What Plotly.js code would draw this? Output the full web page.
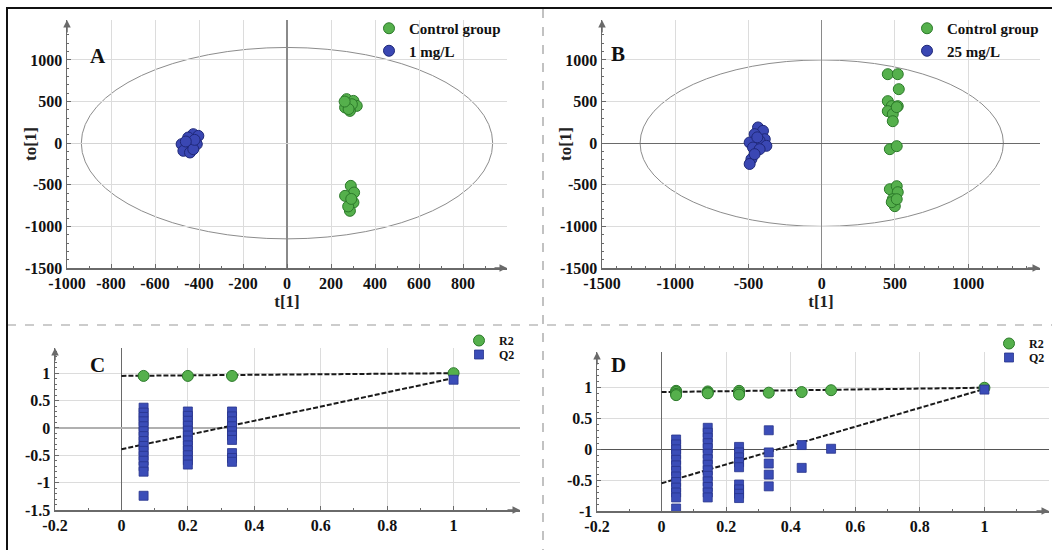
<!DOCTYPE html>
<html>
<head>
<meta charset="utf-8">
<script src="https://cdn.plot.ly/plotly-3.0.1.min.js"></script>
<style>html,body{margin:0;padding:0;background:#fff;}#chart{width:1052px;height:550px;}</style>
</head>
<body>
<div id="chart"></div>
<script>
// ---------- DATA ----------
// Panel A: OPLS-DA scores, Control vs 1 mg/L
const aCtrlT  = [271, 302, 317, 264, 286, 295, 280, 262, 290, 305, 264, 302, 286, 278, 292];
const aCtrlTo = [529, 508, 448, 429, 388, 468, 410, 500, -513, -593, -633, -713, -813, -760, -670];
const aTrtT   = [-426, -403, -449, -410, -441, -479, -471, -441, -426, -420, -460];
const aTrtTo  = [108, 88, 68, -12, -32, -12, -92, -112, -72, 40, 20];
// Panel B: OPLS-DA scores, Control vs 25 mg/L
const bCtrlT  = [451, 519, 526, 451, 478, 519, 451, 485, 512, 485, 465, 512, 465, 512, 519, 485, 499, 478, 512];
const bCtrlTo = [829, 829, 649, 505, 445, 445, 385, 349, 433, 264, -72, -36, -553, -517, -589, -673, -757, -709, -673];
const bTrtT   = [-435, -401, -458, -389, -424, -492, -378, -469, -424, -480, -492, -458, -440];
const bTrtTo  = [189, 148, 108, 48, 28, 8, -32, -52, -72, -192, -250, -132, 70];
// Hotelling T2 ellipses (semi-axes in t[1], to[1] units)
const ellipseA = [935, 1150];
const ellipseB = [1240, 1000];
// Panel C: permutation test (1 mg/L)
const cR2X = [0.0667, 0.2, 0.333, 1];
const cR2Y = [0.95, 0.95, 0.95, 1.0];
const cQ2X = [0.0667,0.0667,0.0667,0.0667,0.0667,0.0667,0.0667,0.0667,0.0667,0.0667,0.0667,0.0667,0.0667,0.0667,0.0667,
              0.2,0.2,0.2,0.2,0.2,0.2,0.2,0.2,0.2,0.2,0.2,0.2,
              0.333,0.333,0.333,0.333,0.333,0.333,0.333,0.333,0.333,0.333, 1];
const cQ2Y = [0.37,0.28,0.2,0.12,0.03,-0.06,-0.15,-0.24,-0.33,-0.42,-0.51,-0.6,-0.7,-0.8,-1.24,
              0.3,0.22,0.13,0.04,-0.05,-0.14,-0.23,-0.32,-0.41,-0.5,-0.59,-0.67,
              0.3,0.21,0.12,0.03,-0.06,-0.14,-0.22,-0.46,-0.55,-0.62, 0.88];
const cLineX  = [0, 1];
const cR2Line = [0.95, 1.0];
const cQ2Line = [-0.39, 0.91];
// Panel D: permutation test (25 mg/L)
const dR2X = [0.045,0.045,0.045,0.045, 0.143,0.143,0.143, 0.24,0.24,0.24, 0.332, 0.434, 0.525, 1];
const dR2Y = [0.95,0.93,0.9,0.88, 0.94,0.92,0.91, 0.95,0.92,0.89, 0.92, 0.93, 0.96, 1.0];
const dQ2X = [0.045,0.045,0.045,0.045,0.045,0.045,0.045,0.045,0.045,0.045,0.045,0.045,0.045,
              0.143,0.143,0.143,0.143,0.143,0.143,0.143,0.143,0.143,0.143,0.143,0.143,0.143,0.143,
              0.24,0.24,0.24,0.24,0.24,0.24,0.24,0.24,0.24,
              0.332,0.332,0.332,0.332,0.332, 0.434,0.434, 0.525, 1];
const dQ2Y = [0.16,0.08,0.0,-0.08,-0.17,-0.26,-0.35,-0.44,-0.53,-0.62,-0.7,-0.78,-0.96,
              0.35,0.27,0.19,0.1,0.02,-0.07,-0.16,-0.25,-0.34,-0.43,-0.52,-0.61,-0.7,-0.78,
              0.04,-0.05,-0.13,-0.21,-0.29,-0.57,-0.65,-0.72,-0.79,
              0.31,-0.05,-0.23,-0.41,-0.6, 0.07,-0.3, 0.01, 0.97];
const dLineX  = [0, 1];
const dR2Line = [0.93, 1.0];
const dQ2Line = [-0.55, 0.98];
// Tick labels
const abYTicks = [-1500, -1000, -500, 0, 500, 1000];
const abYText  = ['-1500', '-1000', '-500', '0', '500', '1000'];
const aXTicks  = [-1000, -800, -600, -400, -200, 0, 200, 400, 600, 800];
const aXText   = ['-1000', '-800', '-600', '-400', '-200', '0', '200', '400', '600', '800'];
const bXTicks  = [-1500, -1000, -500, 0, 500, 1000];
const bXText   = ['-1500', '-1000', '-500', '0', '500', '1000'];
const cdXTicks = [-0.2, 0, 0.2, 0.4, 0.6, 0.8, 1];
const cdXText  = ['-0.2', '0', '0.2', '0.4', '0.6', '0.8', '1'];
const cYTicks  = [-1.5, -1, -0.5, 0, 0.5, 1];
const cYText   = ['-1.5', '-1', '-0.5', '0', '0.5', '1'];
const dYTicks  = [-1, -0.5, 0, 0.5, 1];
const dYText   = ['-1', '-0.5', '0', '0.5', '1'];
const legendA = ['Control group', '1 mg/L'];
const legendB = ['Control group', '25 mg/L'];
const legendCD = ['R2', 'Q2'];
const xTitle = 't[1]';
const yTitle = 'to[1]';

// ---------- LAYOUT HELPERS ----------
const W = 1052, H = 550;
const px = v => v / W;
const py = v => 1 - v / H;
const SERIF = "'Liberation Serif', 'Times New Roman', serif";
const GREEN = '#55b04c', GREEN_D = '#2c7a2a';
const BLUE = '#3a47b3', BLUE_D = '#1f2878';
const SQ_BLUE = '#3b4db8', SQ_BLUE_D = '#27348c';

function axis(domain, range, tickvals, ticktext, opts) {
  return Object.assign({
    domain: domain, range: range, tickvals: tickvals, ticktext: ticktext,
    showline: true, linecolor: '#6a6a6a', linewidth: 1.5,
    ticks: 'inside', ticklen: 4, tickcolor: '#6a6a6a', tickwidth: 1,
    showgrid: true, gridcolor: '#dcdcdc', gridwidth: 1,
    zeroline: true, zerolinecolor: '#8a8a8a', zerolinewidth: 1.2,
    tickfont: {family: SERIF, size: 16, color: '#111', weight: 'bold'},
    fixedrange: true
  }, opts || {});
}

const traces = [
  {x: aCtrlT, y: aCtrlTo, xaxis: 'x', yaxis: 'y', type: 'scatter', mode: 'markers', name: legendA[0], legend: 'legend',
   marker: {size: 11, color: GREEN, line: {color: GREEN_D, width: 1}}},
  {x: aTrtT, y: aTrtTo, xaxis: 'x', yaxis: 'y', type: 'scatter', mode: 'markers', name: legendA[1], legend: 'legend',
   marker: {size: 11, color: BLUE, line: {color: BLUE_D, width: 1}}},
  {x: bCtrlT, y: bCtrlTo, xaxis: 'x2', yaxis: 'y2', type: 'scatter', mode: 'markers', name: legendB[0], legend: 'legend2',
   marker: {size: 11, color: GREEN, line: {color: GREEN_D, width: 1}}},
  {x: bTrtT, y: bTrtTo, xaxis: 'x2', yaxis: 'y2', type: 'scatter', mode: 'markers', name: legendB[1], legend: 'legend2',
   marker: {size: 11, color: BLUE, line: {color: BLUE_D, width: 1}}},
  // Panel C
  {x: cLineX, y: cR2Line, xaxis: 'x3', yaxis: 'y3', type: 'scatter', mode: 'lines', showlegend: false,
   line: {color: '#1a1a1a', width: 2, dash: '5px,2px'}},
  {x: cLineX, y: cQ2Line, xaxis: 'x3', yaxis: 'y3', type: 'scatter', mode: 'lines', showlegend: false,
   line: {color: '#1a1a1a', width: 2, dash: '5px,2px'}},
  {x: cR2X, y: cR2Y, xaxis: 'x3', yaxis: 'y3', type: 'scatter', mode: 'markers', name: legendCD[0], legend: 'legend3',
   marker: {size: 11, symbol: 'circle', color: GREEN, line: {color: GREEN_D, width: 1}}},
  {x: cQ2X, y: cQ2Y, xaxis: 'x3', yaxis: 'y3', type: 'scatter', mode: 'markers', name: legendCD[1], legend: 'legend4',
   marker: {size: 9, symbol: 'square', color: SQ_BLUE, line: {color: SQ_BLUE_D, width: 0.8}}},
  // Panel D
  {x: dLineX, y: dR2Line, xaxis: 'x4', yaxis: 'y4', type: 'scatter', mode: 'lines', showlegend: false,
   line: {color: '#1a1a1a', width: 2, dash: '5px,2px'}},
  {x: dLineX, y: dQ2Line, xaxis: 'x4', yaxis: 'y4', type: 'scatter', mode: 'lines', showlegend: false,
   line: {color: '#1a1a1a', width: 2, dash: '5px,2px'}},
  {x: dR2X, y: dR2Y, xaxis: 'x4', yaxis: 'y4', type: 'scatter', mode: 'markers', name: legendCD[0], legend: 'legend5',
   marker: {size: 11, symbol: 'circle', color: GREEN, line: {color: GREEN_D, width: 1}}},
  {x: dQ2X, y: dQ2Y, xaxis: 'x4', yaxis: 'y4', type: 'scatter', mode: 'markers', name: legendCD[1], legend: 'legend6',
   marker: {size: 9, symbol: 'square', color: SQ_BLUE, line: {color: SQ_BLUE_D, width: 0.8}}}
];

const titleFont = {family: SERIF, size: 17, color: '#222', weight: 'bold'};
const legFont = {family: SERIF, size: 15, color: '#111', weight: 'bold'};
const legSmall = {family: SERIF, size: 12, color: '#111', weight: 'bold'};
function leg(xp, yp, font) {
  return {x: px(xp), y: py(yp), xanchor: 'left', yanchor: 'top', bgcolor: 'rgba(0,0,0,0)',
          borderwidth: 0, font: font, tracegroupgap: 0, itemclick: false, itemdoubleclick: false};
}

function arrowX(ax, ay) {
  return {xref: ax + ' domain', yref: ay + ' domain', x: 1.0, y: 0, ax: -14, ay: 0,
          axref: 'pixel', ayref: 'pixel', text: '', showarrow: true, arrowhead: 2, arrowsize: 1,
          arrowwidth: 1.5, arrowcolor: '#6a6a6a', standoff: 0};
}
function arrowY(ax, ay) {
  return {xref: ax + ' domain', yref: ay + ' domain', x: 0, y: 1.0, ax: 0, ay: 14,
          axref: 'pixel', ayref: 'pixel', text: '', showarrow: true, arrowhead: 2, arrowsize: 1,
          arrowwidth: 1.5, arrowcolor: '#6a6a6a', standoff: 0};
}
function letter(t, xp, yp) {
  return {xref: 'paper', yref: 'paper', x: px(xp), y: py(yp), xanchor: 'center', yanchor: 'middle',
          text: t, showarrow: false, font: {family: SERIF, size: 21, color: '#111', weight: 'bold'}};
}
function yTitleAnn(t, xp, ay) {
  return {xref: 'paper', yref: ay + ' domain', x: px(xp), y: 0.5, xanchor: 'center', yanchor: 'middle',
          text: t, textangle: -90, showarrow: false, font: titleFont};
}

const layout = {
  width: W, height: H, autosize: false,
  margin: {l: 0, r: 0, t: 0, b: 0, pad: 0},
  paper_bgcolor: '#fff', plot_bgcolor: 'rgba(0,0,0,0)',
  showlegend: true,
  xaxis: axis([px(67), px(507)], [-1000, 1000], aXTicks, aXText,
    {anchor: 'y', zerolinecolor: '#8a8a8a', minor: {ticks: 'inside', ticklen: 2, dtick: 100, tickcolor: '#6a6a6a', showgrid: false},
     title: {text: xTitle, font: titleFont, standoff: 0}}),
  yaxis: axis([py(268), py(20)], [-1500, 1480], abYTicks, abYText,
    {anchor: 'x', zerolinecolor: '#d4d4d4', minor: {ticks: 'inside', ticklen: 2, dtick: 100, tickcolor: '#6a6a6a', showgrid: false}}),
  xaxis2: axis([px(602), px(1040)], [-1500, 1490], bXTicks, bXText,
    {anchor: 'y2', zerolinecolor: '#8a8a8a', minor: {ticks: 'inside', ticklen: 2, dtick: 100, tickcolor: '#6a6a6a', showgrid: false},
     title: {text: xTitle, font: titleFont, standoff: 0}}),
  yaxis2: axis([py(268), py(20)], [-1500, 1480], abYTicks, abYText,
    {anchor: 'x2', zerolinecolor: '#6a6a6a', minor: {ticks: 'inside', ticklen: 2, dtick: 100, tickcolor: '#6a6a6a', showgrid: false}}),
  xaxis3: axis([px(55), px(520)], [-0.2, 1.2], cdXTicks, cdXText,
    {anchor: 'y3', zerolinecolor: '#6a6a6a', minor: {ticks: 'inside', ticklen: 2, dtick: 0.1, tickcolor: '#6a6a6a', showgrid: false}}),
  yaxis3: axis([py(510), py(348)], [-1.5, 1.46], cYTicks, cYText,
    {anchor: 'x3', zerolinecolor: '#b0b0b0', minor: {ticks: 'inside', ticklen: 2, dtick: 0.1, tickcolor: '#6a6a6a', showgrid: false}}),
  xaxis4: axis([px(597), px(1049)], [-0.2, 1.2], cdXTicks, cdXText,
    {anchor: 'y4', zerolinecolor: '#6a6a6a', minor: {ticks: 'inside', ticklen: 2, dtick: 0.1, tickcolor: '#6a6a6a', showgrid: false}}),
  yaxis4: axis([py(511), py(352)], [-1, 1.58], dYTicks, dYText,
    {anchor: 'x4', zerolinecolor: '#555', minor: {ticks: 'inside', ticklen: 2, dtick: 0.1, tickcolor: '#6a6a6a', showgrid: false}}),
  legend: leg(369, 12, legFont),
  legend2: leg(907, 12, legFont),
  legend3: leg(459, 326, legSmall),
  legend4: leg(459, 340, legSmall),
  legend5: leg(989, 329, legSmall),
  legend6: leg(989, 343, legSmall),
  shapes: [
    {type: 'circle', xref: 'x', yref: 'y', x0: -ellipseA[0], x1: ellipseA[0], y0: -ellipseA[1], y1: ellipseA[1],
     line: {color: '#8c8c8c', width: 1}, layer: 'below'},
    {type: 'circle', xref: 'x2', yref: 'y2', x0: -ellipseB[0], x1: ellipseB[0], y0: -ellipseB[1], y1: ellipseB[1],
     line: {color: '#8c8c8c', width: 1}, layer: 'below'},
    // panel separators and frame
    {type: 'line', xref: 'paper', yref: 'paper', x0: px(7), x1: 1, y0: py(325), y1: py(325),
     line: {color: '#9a9a9a', width: 1.2, dash: 'dash'}},
    {type: 'line', xref: 'paper', yref: 'paper', x0: px(543), x1: px(543), y0: py(9), y1: 0,
     line: {color: '#9a9a9a', width: 1.2, dash: 'dash'}},
    {type: 'line', xref: 'paper', yref: 'paper', x0: px(6), x1: 1, y0: py(8), y1: py(8),
     line: {color: '#111', width: 2}},
    {type: 'line', xref: 'paper', yref: 'paper', x0: px(7), x1: px(7), y0: py(7), y1: 0,
     line: {color: '#111', width: 2}}
  ],
  annotations: [
    letter('A', 98, 56), letter('B', 618, 54), letter('C', 97, 365), letter('D', 618, 365),
    yTitleAnn(yTitle, 30, 'y'), yTitleAnn(yTitle, 565, 'y2'),
    arrowX('x', 'y'), arrowY('x', 'y'), arrowX('x2', 'y2'), arrowY('x2', 'y2'),
    arrowX('x3', 'y3'), arrowY('x3', 'y3'), arrowX('x4', 'y4'), arrowY('x4', 'y4')
  ]
};

Plotly.newPlot('chart', traces, layout, {displayModeBar: false, staticPlot: true});
</script>
</body>
</html>
